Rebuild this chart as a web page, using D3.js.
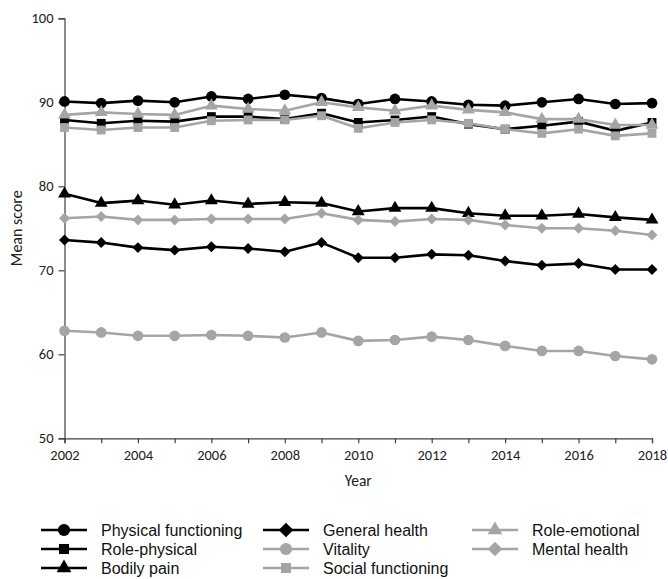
<!DOCTYPE html>
<html>
<head>
<meta charset="utf-8">
<script src="https://cdn.jsdelivr.net/npm/d3@7"></script>
<style>
  html, body { margin: 0; padding: 0; background: #fff; }
  svg { display: block; }
</style>
</head>
<body>
<svg id="chart" width="668" height="579"></svg>
<script>
// Survey years
const years = [2002, 2003, 2004, 2005, 2006, 2007, 2008, 2009, 2010, 2011, 2012, 2013, 2014, 2015, 2016, 2017, 2018];

// Mean scale scores per year
const physicalFunctioning = [90.1, 89.9, 90.2, 90.0, 90.7, 90.4, 90.9, 90.5, 89.8, 90.4, 90.1, 89.7, 89.6, 90.0, 90.4, 89.8, 89.9];
const rolePhysical        = [87.9, 87.5, 87.8, 87.7, 88.3, 88.3, 88.0, 88.7, 87.6, 87.9, 88.3, 87.4, 86.8, 87.2, 87.7, 86.6, 87.6];
const bodilyPain          = [79.1, 78.0, 78.3, 77.8, 78.3, 77.9, 78.1, 78.0, 77.0, 77.4, 77.4, 76.8, 76.5, 76.5, 76.7, 76.3, 76.0];
const generalHealth       = [73.6, 73.3, 72.7, 72.4, 72.8, 72.6, 72.2, 73.3, 71.5, 71.5, 71.9, 71.8, 71.1, 70.6, 70.8, 70.1, 70.1];
const vitality            = [62.8, 62.6, 62.2, 62.2, 62.3, 62.2, 62.0, 62.6, 61.6, 61.7, 62.1, 61.7, 61.0, 60.4, 60.4, 59.8, 59.4];
const socialFunctioning   = [87.0, 86.7, 87.0, 87.0, 87.8, 87.9, 87.9, 88.4, 86.9, 87.6, 87.9, 87.5, 86.8, 86.3, 86.8, 86.0, 86.3];
const roleEmotional       = [88.5, 88.8, 88.6, 88.5, 89.6, 89.2, 89.0, 90.0, 89.4, 89.0, 89.6, 89.1, 88.8, 88.0, 88.0, 87.3, 87.3];
const mentalHealth        = [76.2, 76.4, 76.0, 76.0, 76.1, 76.1, 76.1, 76.8, 76.0, 75.8, 76.1, 76.0, 75.4, 75.0, 75.0, 74.7, 74.2];

// Series names, in legend order
const seriesNames = ["Physical functioning", "Role-physical", "Bodily pain", "General health",
                     "Vitality", "Social functioning", "Role-emotional", "Mental health"];
const seriesValues = [physicalFunctioning, rolePhysical, bodilyPain, generalHealth,
                      vitality, socialFunctioning, roleEmotional, mentalHealth];

// Axis tick labels
const yTicks = [50, 60, 70, 80, 90, 100];
const xTickLabels = [2002, 2004, 2006, 2008, 2010, 2012, 2014, 2016, 2018];

const BLACK = "#000000";
const GRAY = "#a5a5a5";
const styles = [
  { color: BLACK, shape: "circle" },
  { color: BLACK, shape: "square" },
  { color: BLACK, shape: "triangle" },
  { color: BLACK, shape: "diamond" },
  { color: GRAY,  shape: "circle" },
  { color: GRAY,  shape: "square" },
  { color: GRAY,  shape: "triangle" },
  { color: GRAY,  shape: "diamond" }
];

const svg = d3.select("#chart");
const plot = { left: 64.5, right: 652, top: 18.3, bottom: 438.3 };

const x = d3.scaleLinear().domain([2002, 2018]).range([plot.left, plot.right]);
const y = d3.scaleLinear().domain([50, 100]).range([plot.bottom, plot.top]);

const tickFont = "Carlito, 'Open Sans', 'Liberation Sans', sans-serif";
const axisColor = "#404040";

// Y axis
const yAxis = svg.append("g")
  .attr("transform", `translate(${plot.left},0)`)
  .call(d3.axisLeft(y).tickValues(yTicks).tickSize(6).tickPadding(5).tickFormat(d3.format("d")));
yAxis.select(".domain").attr("stroke", axisColor).attr("stroke-width", 1.2);
yAxis.selectAll(".tick line").attr("stroke", axisColor).attr("stroke-width", 1.2);
yAxis.selectAll(".tick text").attr("font-family", tickFont).attr("font-size", 14.5).attr("fill", "#222");

// X axis: a tick every year, labels every second year
const xAxis = svg.append("g")
  .attr("transform", `translate(0,${plot.bottom})`)
  .call(d3.axisBottom(x).tickValues(years).tickSize(5).tickPadding(6)
    .tickFormat(d => xTickLabels.includes(d) ? String(d) : ""));
xAxis.select(".domain").attr("stroke", axisColor).attr("stroke-width", 1.2);
xAxis.selectAll(".tick line").attr("stroke", axisColor).attr("stroke-width", 1.2);
xAxis.selectAll(".tick text").attr("font-family", tickFont).attr("font-size", 14.5).attr("fill", "#222");

// Axis titles
svg.append("text")
  .attr("x", (plot.left + plot.right) / 2).attr("y", 486)
  .attr("text-anchor", "middle")
  .attr("font-family", tickFont).attr("font-size", 15.5).attr("fill", "#222")
  .text("Year");
svg.append("text")
  .attr("transform", `translate(22,${(plot.top + plot.bottom) / 2}) rotate(-90)`)
  .attr("text-anchor", "middle")
  .attr("font-family", tickFont).attr("font-size", 16).attr("fill", "#222")
  .text("Mean score");

// Marker generator
function markerPath(shape, k = 1) {
  if (shape === "circle") return d3.symbol(d3.symbolCircle, 90 * k)();
  if (shape === "square") return d3.symbol(d3.symbolSquare, 78 * k)();
  if (shape === "triangle") return d3.symbol(d3.symbolTriangle, 72 * k)();
  return d3.symbol(d3.symbolSquare, 60 * k)();
}
function markerRotate(shape) { return shape === "diamond" ? " rotate(45)" : ""; }

const line = d3.line().x((d, i) => x(years[i])).y(d => y(d));

// Lines and markers
seriesValues.forEach((vals, s) => {
  const st = styles[s];
  const g = svg.append("g");
  g.append("path")
    .datum(vals)
    .attr("d", line)
    .attr("fill", "none")
    .attr("stroke", st.color)
    .attr("stroke-width", 2.6)
    .attr("stroke-linejoin", "round");
  g.selectAll("path.m")
    .data(vals)
    .join("path")
    .attr("class", "m")
    .attr("d", markerPath(st.shape))
    .attr("transform", (d, i) => `translate(${x(years[i])},${y(d)})${markerRotate(st.shape)}`)
    .attr("fill", st.color);
});

// Legend: three columns, filled down each column
const legendFont = "'Liberation Sans', Arial, sans-serif";
const colX = [41, 263, 472];
const rowY = [530, 549, 568];
seriesNames.forEach((name, s) => {
  const col = Math.floor(s / 3), row = s % 3;
  const st = styles[s];
  const lx = colX[col], ly = rowY[row];
  const g = svg.append("g");
  g.append("line")
    .attr("x1", lx).attr("x2", lx + 46).attr("y1", ly).attr("y2", ly)
    .attr("stroke", st.color).attr("stroke-width", 2.6);
  g.append("path")
    .attr("d", markerPath(st.shape, st.shape === "diamond" ? 1.8 : 1.3))
    .attr("transform", `translate(${lx + 23},${ly})${markerRotate(st.shape)}`)
    .attr("fill", st.color);
  g.append("text")
    .attr("x", lx + 60).attr("y", ly).attr("dy", "0.36em")
    .attr("font-family", legendFont).attr("font-size", 16).attr("fill", "#111")
    .text(name);
});
</script>
</body>
</html>
